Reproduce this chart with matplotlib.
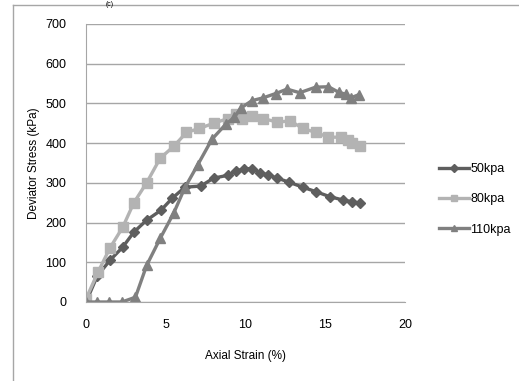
"""Deviator stress vs axial strain for three confining pressures."""
import matplotlib
matplotlib.use('Agg')
import matplotlib.pyplot as plt
from matplotlib.lines import Line2D

plt.rcParams['font.family'] = ['Liberation Sans', 'DejaVu Sans']

# values
strain_50 = [0, 0.7, 1.5, 2.3, 3.0, 3.8, 4.7, 5.4, 6.2, 7.2, 8.0, 8.9, 9.4, 9.9,
             10.4, 10.9, 11.4, 12.0, 12.7, 13.6, 14.4, 15.3, 16.1, 16.7, 17.2]
stress_50 = [0, 65, 105, 138, 176, 206, 231, 261, 289, 292, 312, 319, 329, 335,
             336, 325, 320, 312, 302, 289, 278, 265, 257, 252, 249]

strain_80 = [0, 0.75, 1.5, 2.3, 3.0, 3.8, 4.65, 5.5, 6.3, 7.1, 8.0, 8.9, 9.4,
             9.8, 10.4, 11.1, 12.0, 12.8, 13.6, 14.4, 15.2, 16.0, 16.4, 16.7, 17.2]
stress_80 = [8, 75, 136, 188, 250, 300, 362, 392, 427, 437, 450, 462, 473,
             462, 468, 462, 453, 456, 437, 427, 415, 415, 407, 400, 394]

strain_110 = [0, 0.7, 1.45, 2.25, 3.1, 3.8, 4.65, 5.5, 6.2, 7.0, 7.9, 8.75, 9.3,
              9.7, 10.4, 11.1, 11.9, 12.6, 13.4, 14.4, 15.2, 15.85, 16.3, 16.6, 17.1]
stress_110 = [0, 0, 0, 0, 12, 92, 160, 224, 288, 345, 410, 447, 465,
              488, 507, 514, 525, 536, 527, 541, 542, 528, 523, 514, 522]

series = [
    ('50kpa', strain_50, stress_50, 'D', '#5e5e5e'),
    ('80kpa', strain_80, stress_80, 's', '#b3b3b3'),
    ('110kpa', strain_110, stress_110, '^', '#808080'),
]

W, H = 519, 381
fig = plt.figure(figsize=(W / 100, H / 100), dpi=100)
ax = fig.add_axes([86 / W, 1 - 302 / H, (405 - 86) / W, (302 - 24) / H])

for label, xs, ys, marker, color in series:
    ax.plot(xs, ys, color=color, linewidth=2.4, marker=marker,
            markersize=6.5 if marker != 'D' else 5.5, label=label)

ax.set_xlim(0, 20)
ax.set_ylim(0, 700)
ax.set_xticks([0, 5, 10, 15, 20])
ax.set_yticks(range(0, 701, 100))
ax.yaxis.grid(True, color='#a6a6a6', linewidth=1)
ax.set_axisbelow(True)
for side in ('top', 'right'):
    ax.spines[side].set_visible(False)
for side in ('left', 'bottom'):
    ax.spines[side].set_color('#a6a6a6')
ax.tick_params(length=0, labelsize=9, pad=14)
ax.tick_params(axis='x', pad=12)
ax.set_xlabel('Axial Strain (%)', fontsize=8.5, labelpad=14)
ax.set_ylabel('Deviator Stress (kPa)', fontsize=8.5, labelpad=4)

ax.legend(loc='upper left', bbox_to_anchor=(428 / W, 1 - 152 / H),
          bbox_transform=fig.transFigure, frameon=False, fontsize=9,
          handlelength=2.4, handletextpad=0.1, labelspacing=1.45,
          markerscale=0.75)

# chart-area border and caption
fig.add_artist(Line2D([13 / W, 1], [1 - 5 / H, 1 - 5 / H], color='#a6a6a6', linewidth=1))
fig.add_artist(Line2D([13 / W, 13 / W], [0, 1 - 5 / H], color='#a6a6a6', linewidth=1))
fig.text(110 / W, 1 - 0.5 / H, '(c)', fontsize=5, ha='center', va='top')

fig.savefig('out.png', dpi=100)
